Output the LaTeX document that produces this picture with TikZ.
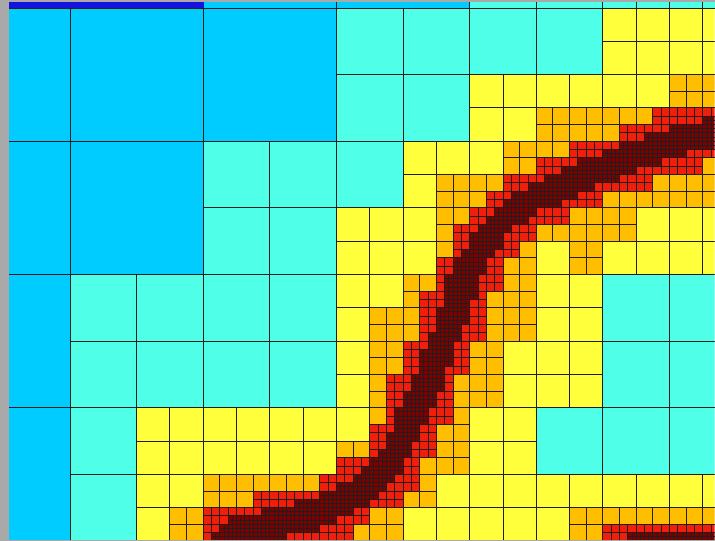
\documentclass[tikz,border=0pt]{standalone}
\definecolor{lv0}{HTML}{00CCFF}
\definecolor{lv1}{HTML}{50FFE8}
\definecolor{lv2}{HTML}{FFFF3C}
\definecolor{lv3}{HTML}{FFBE00}
\definecolor{lv4}{HTML}{F01E0A}
\definecolor{lv5}{HTML}{800000}
\definecolor{gridc}{HTML}{1E1E1E}
\definecolor{framegray}{HTML}{A9A9A9}
\definecolor{topblue}{HTML}{1414DC}
\makeatletter
\newdimen\ul \ul=0.025pt
\newcount\dA \newcount\dB \newcount\dC \newcount\dD
\newcount\dotp \newcount\lentwo \newcount\dtwo
\newcount\Px \newcount\Py \newcount\thr
\newif\ifnear \newif\ifrefine
% distance of (Px,Py) to segment
\def\seg#1#2#3#4{%
  \ifnear\else
    \dA=\numexpr#3-(#1)\relax \dB=\numexpr#4-(#2)\relax
    \dC=\numexpr\Px-(#1)\relax \dD=\numexpr\Py-(#2)\relax
    \dotp=\numexpr\dC*\dA+\dD*\dB\relax
    \ifnum\dotp<\@ne
      \dtwo=\numexpr\dC*\dC+\dD*\dD\relax
    \else
      \lentwo=\numexpr\dA*\dA+\dB*\dB\relax
      \ifnum\dotp<\lentwo
        \dotp=\numexpr\dC*\dB-\dD*\dA\relax
        \dtwo=\numexpr\dotp*\dotp/\lentwo\relax
      \else
        \dC=\numexpr\Px-(#3)\relax \dD=\numexpr\Py-(#4)\relax
        \dtwo=\numexpr\dC*\dC+\dD*\dD\relax
      \fi
    \fi
    \ifnum\dtwo<\thr\relax \neartrue\fi
  \fi}
\def\curvelist{%
  \seg{16560}{2832}{15480}{3000}\seg{15480}{3000}{14400}{3240}%
  \seg{14400}{3240}{13200}{3696}\seg{13200}{3696}{12000}{4176}%
  \seg{12000}{4176}{11280}{4512}\seg{11280}{4512}{10680}{4848}%
  \seg{10680}{4848}{10200}{5280}\seg{10200}{5280}{9840}{5808}%
  \seg{9840}{5808}{9432}{6600}\seg{9432}{6600}{9192}{7416}%
  \seg{9192}{7416}{8880}{8208}\seg{8880}{8208}{8640}{8928}%
  \seg{8640}{8928}{8280}{9648}\seg{8280}{9648}{7968}{10368}%
  \seg{7968}{10368}{7680}{10968}\seg{7680}{10968}{7032}{11568}%
  \seg{7032}{11568}{6072}{12096}\seg{6072}{12096}{4872}{12408}%
  \seg{4872}{12408}{4080}{12576}\seg{4080}{12576}{3792}{12720}%
  \seg{3792}{12720}{3840}{13248}%
  \seg{17040}{12960}{13680}{12960}\seg{13680}{12960}{13248}{13128}%
  \seg{13248}{13128}{13008}{13680}}
\def\distcheck#1#2#3{%
  \Px=\numexpr#1+#3/2\relax \Py=\numexpr#2+#3/2\relax
  \nearfalse \curvelist
  \ifnear\refinetrue\else\refinefalse\fi}
\def\Ttwo{2073600}\def\Tthree{518400}\def\Tfour{121104}
\def\setrz#1#2{\expandafter\def\csname rz@#1@#2\endcsname{}}
\def\setlo#1#2{\expandafter\def\csname lo@#1@#2\endcsname{}}
\def\setfl#1#2#3{\expandafter\def\csname fl@#1@#2@#3\endcsname{}}
\def\setfr#1#2#3{\expandafter\def\csname fr@#1@#2@#3\endcsname{}}
\def\decide#1#2#3#4{%
  \ifcsname fr@#1@#2@#3\endcsname \refinetrue
  \else\ifcsname fl@#1@#2@#3\endcsname \refinefalse
  \else
    \ifcase#1\relax
      \ifcsname rz@#2@#3\endcsname\refinetrue\else\refinefalse\fi
    \or
      \ifcsname lo@#2@#3\endcsname\refinefalse\else\refinetrue\fi
    \or \thr=\Ttwo\relax \distcheck{#2}{#3}{#4}%
    \or \thr=\Tthree\relax \distcheck{#2}{#3}{#4}%
    \or \thr=\Tfour\relax \distcheck{#2}{#3}{#4}%
    \else \refinefalse
    \fi
  \fi\fi}
\def\leaf#1#2#3#4{%
  \pgfpathrectangle{\pgfqpoint{#2\ul}{-#3\ul}}{\pgfqpoint{#4\ul}{-#4\ul}}%
  \pgfsetfillcolor{lv#1}%
  \pgfusepath{fill,stroke}}
\def\splitcell#1#2#3#4{%
  \edef\tmpsplit{%
    \noexpand\cell{#1}{#3}{#4}{#2}%
    \noexpand\cell{#1}{\the\numexpr#3+#2\relax}{#4}{#2}%
    \noexpand\cell{#1}{#3}{\the\numexpr#4+#2\relax}{#2}%
    \noexpand\cell{#1}{\the\numexpr#3+#2\relax}{\the\numexpr#4+#2\relax}{#2}}%
  \tmpsplit}
\def\cell#1#2#3#4{%
  \decide{#1}{#2}{#3}{#4}%
  \ifrefine
    \edef\tmpcell{\noexpand\splitcell{\the\numexpr#1+1\relax}{\the\numexpr#4/2\relax}{#2}{#3}}%
  \else
    \def\tmpcell{\leaf{#1}{#2}{#3}{#4}}%
  \fi
  \tmpcell}
% refined coarse cells
\setrz{6400}{0}\setrz{9600}{0}\setrz{12800}{0}
\setrz{3200}{3200}\setrz{6400}{3200}\setrz{9600}{3200}\setrz{12800}{3200}
\setrz{0}{6400}\setrz{3200}{6400}\setrz{6400}{6400}\setrz{9600}{6400}\setrz{12800}{6400}
\setrz{0}{9600}\setrz{3200}{9600}\setrz{6400}{9600}\setrz{9600}{9600}\setrz{12800}{9600}
% level-1 cells that stay unrefined
\setlo{6400}{0}\setlo{8000}{0}\setlo{9600}{0}\setlo{11200}{0}
\setlo{6400}{1600}\setlo{8000}{1600}
\setlo{3200}{3200}\setlo{4800}{3200}\setlo{6400}{3200}
\setlo{3200}{4800}\setlo{4800}{4800}
\setlo{0}{6400}\setlo{1600}{6400}\setlo{3200}{6400}\setlo{4800}{6400}
\setlo{0}{8000}\setlo{1600}{8000}\setlo{3200}{8000}\setlo{4800}{8000}
\setlo{12800}{6400}\setlo{14400}{6400}\setlo{12800}{8000}\setlo{14400}{8000}
\setlo{11200}{9600}\setlo{12800}{9600}\setlo{14400}{9600}
\setlo{0}{9600}\setlo{0}{11200}
% overrides (level 2)
\setfl{2}{12800}{11200}\setfl{2}{13600}{11200}\setfl{2}{14400}{11200}\setfl{2}{15200}{11200}
\setfl{2}{13600}{1600}\setfl{2}{9600}{3200}\setfl{2}{8000}{5600}
\setfl{2}{6400}{9600}\setfl{2}{5600}{10400}\setfl{2}{2400}{11200}
\setfr{2}{12000}{4800}\setfr{2}{12800}{4800}\setfr{2}{12000}{5600}
\setfr{2}{10400}{6400}\setfr{2}{10400}{7200}
\makeatother
\begin{document}
\begin{tikzpicture}
  \begin{scope}[x=0.6pt,y=-0.6pt,shift={(-70,-8)}]
    \useasboundingbox (0,0) rectangle (715,541);
  \end{scope}
  \begin{scope}
    \clip (-42pt,4.8pt) rectangle (387pt,-319.8pt);
    \pgfsetstrokecolor{gridc}\pgfsetlinewidth{0.5pt}%
    \foreach \i in {-1,...,4}{\foreach \j in {0,...,3}{%
      \edef\tmpc{\noexpand\cell{0}{\the\numexpr\i*3200\relax}{\the\numexpr\j*3200\relax}{3200}}\tmpc}}
  \end{scope}
  \begin{scope}[x=0.6pt,y=-0.6pt,shift={(-70,-8)}]
    \fill[topblue] (9,2) rectangle (204,8);
    \fill[lv0] (204,2) rectangle (470,8);
    \fill[lv1] (470,2) rectangle (715,8);
    \foreach \xx in {337,470,537,603,637,670,703}{\draw[gridc,line width=0.5pt] (\xx,2) -- (\xx,8);}
    \draw[gridc,line width=0.5pt] (204,8) -- (715,8);
    \fill[framegray] (0,0) rectangle (715,2);
    \fill[framegray] (0,0) rectangle (9,541);
    \fill[framegray] (0,540) rectangle (715,541);
  \end{scope}
\end{tikzpicture}
\end{document}
